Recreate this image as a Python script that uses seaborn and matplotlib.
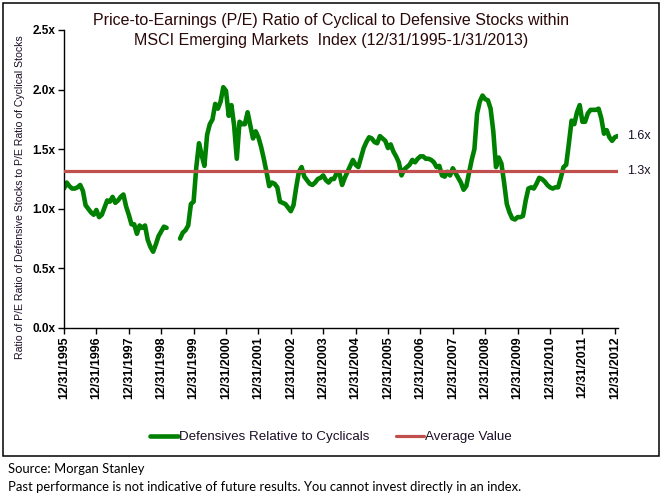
import numpy as np
import pandas as pd
import matplotlib
matplotlib.use("Agg")
import matplotlib.pyplot as plt
import seaborn as sns
from matplotlib.lines import Line2D
from matplotlib.patches import Rectangle

# ---------------- data ----------------
title_lines = ["Price-to-Earnings (P/E) Ratio of Cyclical to Defensive Stocks within",
               "MSCI Emerging Markets  Index (12/31/1995-1/31/2013)"]
y_label = "Ratio of P/E Ratio of Defensive Stocks to P/E Ratio of Cyclical Stocks"
series_name = "Defensives Relative to Cyclicals"
avg_name = "Average Value"
avg_value = 1.32
last_label = "1.6x"
avg_label = "1.3x"

# monthly ratio, 12/31/1995 .. 1/31/2013 (206 months); None = missing months
ratio_1996_1998 = [1.17, 1.22, 1.19, 1.17, 1.17, 1.18, 1.20, 1.15, 1.03, 1.00, 0.97, 0.95,
                   0.99, 0.93, 0.95, 1.01, 1.07, 1.06, 1.10, 1.05, 1.07, 1.10, 1.12, 1.02,
                   0.95, 0.87, 0.87, 0.79, 0.86, 0.84, 0.86, 0.74, 0.68, 0.64, 0.70, 0.77,
                   0.81, 0.85, 0.84]
ratio_gap = [None, None, None, None]
ratio_1999_2012 = [0.75, 0.80, 0.82, 0.86, 1.04,
                   1.06, 1.35, 1.55, 1.45, 1.36, 1.62, 1.71, 1.75, 1.88, 1.84, 1.90, 2.02,
                   1.99, 1.78, 1.87, 1.70, 1.42, 1.73, 1.71, 1.71, 1.81, 1.70, 1.59, 1.65,
                   1.60, 1.52, 1.42, 1.31, 1.19, 1.22, 1.21, 1.18, 1.06, 1.05, 1.04, 1.01,
                   0.98, 1.03, 1.18, 1.31, 1.35, 1.27, 1.24, 1.21, 1.20, 1.22, 1.25, 1.26,
                   1.28, 1.24, 1.22, 1.25, 1.25, 1.30, 1.30, 1.20, 1.26, 1.31, 1.36, 1.41,
                   1.37, 1.35, 1.43, 1.51, 1.56, 1.60, 1.59, 1.56, 1.55, 1.61, 1.59, 1.57,
                   1.51, 1.54, 1.48, 1.44, 1.39, 1.28, 1.33, 1.35, 1.37, 1.41, 1.39, 1.42,
                   1.44, 1.44, 1.42, 1.42, 1.41, 1.39, 1.35, 1.36, 1.28, 1.27, 1.31, 1.28,
                   1.34, 1.30, 1.26, 1.22, 1.16, 1.19, 1.30, 1.41, 1.50, 1.80, 1.90, 1.95,
                   1.92, 1.91, 1.84, 1.65, 1.35, 1.43, 1.38, 1.22, 1.04, 0.97, 0.92, 0.91,
                   0.93, 0.93, 0.94, 1.07, 1.17, 1.18, 1.17, 1.21, 1.26, 1.25, 1.23, 1.20,
                   1.18, 1.17, 1.18, 1.18, 1.26, 1.35, 1.37, 1.55, 1.74, 1.71, 1.81, 1.87,
                   1.73, 1.73, 1.80, 1.83, 1.83, 1.83, 1.84, 1.76, 1.63, 1.66, 1.60, 1.57,
                   1.60, 1.61]
tick_labels = ["12/31/1995", "12/31/1996", "12/31/1997", "12/31/1998", "12/31/1999",
               "12/31/2000", "12/31/2001", "12/31/2002", "12/31/2003", "12/31/2004",
               "12/31/2005", "12/31/2006", "12/31/2007", "12/31/2008", "12/31/2009",
               "12/31/2010", "12/31/2011", "12/31/2012"]
y_ticks = [0.0, 0.5, 1.0, 1.5, 2.0, 2.5]
source_text = "Source: Morgan Stanley"
disclaimer = "Past performance is not indicative of future results. You cannot invest directly in an index."

# ---------------- build table ----------------
values = ratio_1996_1998 + ratio_gap + ratio_1999_2012
df = pd.DataFrame({"month": np.arange(len(values)),
                   "ratio": pd.array(values, dtype="float")})
df["segment"] = df["ratio"].isna().cumsum()
df_plot = df.dropna()
n = len(values)

# ---------------- style ----------------
sns.set_theme(style="white")
plt.rcParams["font.family"] = ["Liberation Sans", "DejaVu Sans"]

W, H = 662, 500
fig = plt.figure(figsize=(W / 100, H / 100), dpi=100)
fig.patch.set_facecolor("white")

def fx(px):
    return px / W

def fy(py):
    return 1 - py / H

ax_left, ax_right, ax_top, ax_bottom = 64, 617.5, 30, 328
ax = fig.add_axes([fx(ax_left), fy(ax_bottom), fx(ax_right - ax_left), (ax_bottom - ax_top) / H])
ax.set_facecolor("white")

green = "#008000"
red = "#C0504D"
text_dark = "#1a0f26"

sns.lineplot(data=df_plot, x="month", y="ratio", units="segment", estimator=None,
             color=green, linewidth=3.3, ax=ax, legend=False, zorder=2)
ax.axhline(avg_value, color=red, linewidth=2.3, zorder=3)

ax.set_xlim(0, n - 1)
ax.set_ylim(0, 2.5)
ax.set_yticks(y_ticks)
ax.set_yticklabels([f"{v:.1f}x" for v in y_ticks], fontsize=8.5, fontweight="bold", color="black")
ax.set_xticks(np.arange(0, n, 12)[:len(tick_labels)])
ax.set_xticklabels(tick_labels, rotation=90, fontsize=9.0, fontweight="bold", color="black")
ax.set_xlabel("")
ax.set_ylabel("")
for s in ["top", "right"]:
    ax.spines[s].set_visible(False)
for s in ["left", "bottom"]:
    ax.spines[s].set_color("black")
    ax.spines[s].set_linewidth(1.0)
ax.tick_params(axis="both", which="major", direction="out", length=4, width=1,
               color="black", left=True, bottom=True, pad=2)
ax.grid(False)

# data labels
ax.annotate(last_label, xy=(n - 1, values[-1]), xytext=(7, 0), textcoords="offset points",
            va="center", ha="left", fontsize=9, color=text_dark, annotation_clip=False)
ax.annotate(avg_label, xy=(n - 1, avg_value), xytext=(7, 0), textcoords="offset points",
            va="center", ha="left", fontsize=9, color=text_dark, annotation_clip=False)

# title
fig.text(fx(331), fy(21), title_lines[0], ha="center", va="center", fontsize=11.5, color="#2a0808")
fig.text(fx(331), fy(41), title_lines[1], ha="center", va="center", fontsize=11.5, color="#2a0808")

# y label
fig.text(fx(20), fy(197), y_label, rotation=90, ha="center", va="center", fontsize=7.6, color=text_dark)

# legend
handles = [Line2D([0], [0], color=green, linewidth=3.3),
           Line2D([0], [0], color=red, linewidth=2.3)]
fig.legend(handles, [series_name, avg_name], loc="center", bbox_to_anchor=(fx(331), fy(437)),
           ncol=2, frameon=False, fontsize=9.6, handlelength=2.1, handletextpad=0.1,
           columnspacing=2.0, labelcolor=text_dark)

# chart border
fig.patches.append(Rectangle((fx(2.5), fy(456)), fx(656.5), (456 - 2.5) / H, transform=fig.transFigure,
                             fill=False, edgecolor="black", linewidth=1.1))

# footnotes
fig.text(fx(8), fy(469), source_text, ha="left", va="center", fontsize=9.4,
         family=["Lato", "DejaVu Sans"], color="black")
fig.text(fx(8), fy(487), disclaimer, ha="left", va="center", fontsize=9.4,
         family=["Lato", "DejaVu Sans"], color="black")

fig.savefig("out.png", dpi=100, facecolor="white")
